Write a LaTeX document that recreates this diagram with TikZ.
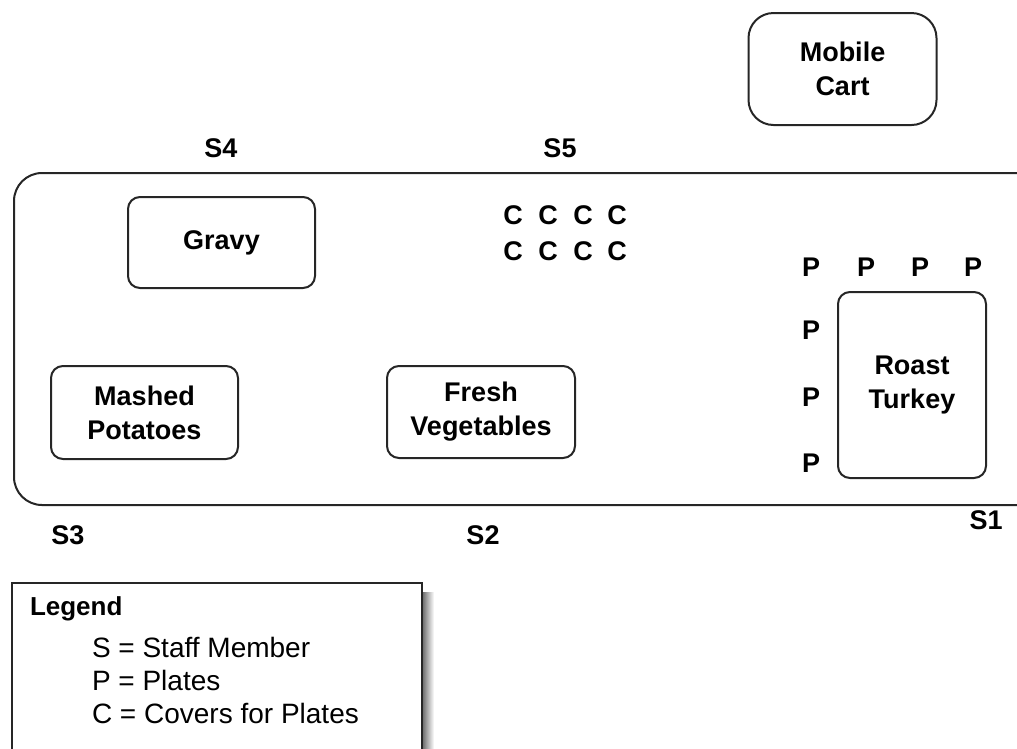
\documentclass[tikz,border=0pt]{standalone}
\usepackage{fontspec}
\setmainfont{Liberation Sans}
\tikzset{
  every node/.style={inner sep=0pt, outer sep=0pt},
  lbl/.style={font=\fontsize{27}{34}\selectfont\bfseries, align=center},
  box/.style={draw=black!85, line width=2pt, rounded corners=12pt, lbl},
  bigbox/.style={draw=black!85, line width=2pt, rounded corners=28pt},
  leg/.style={font=\fontsize{28}{30}\selectfont, anchor=base west},
}
\begin{document}
\begin{tikzpicture}[x=1pt,y=-1pt]
\useasboundingbox (0,0) rectangle (1017,748);
\begin{scope}
\clip (0,0) rectangle (1017,748);
% main table
\draw[bigbox] (14,173) rectangle (1045,505);
% legend shadow and box
\shade[left color=black!55, right color=white] (423,592) rectangle (434,760);
\draw[draw=black!85, fill=white, line width=2pt] (12,583) rectangle (422,770);
\end{scope}

\node[box, minimum width=188pt, minimum height=112pt, rounded corners=25pt] (cart) at (842.5,69) {Mobile\\Cart};
\node[box, minimum width=187pt, minimum height=91pt] (gravy) at (221.5,242.5) {Gravy};
\node[box, minimum width=187pt, minimum height=93pt] (mash) at (144.5,412.5) {Mashed\\Potatoes};
\node[box, minimum width=188pt, minimum height=92pt] (veg) at (481,412) {Fresh\\Vegetables};
\node[box, minimum width=148pt, minimum height=186pt] (turkey) at (912,385) {Roast\\Turkey};

% staff
\node[lbl] (s4) at (221,148) {S4};
\node[lbl] (s5) at (560,148) {S5};
\node[lbl] (s3) at (68,535) {S3};
\node[lbl] (s2) at (483,535) {S2};
\node[lbl] (s1) at (986,520) {S1};

% covers
\foreach \x [count=\i] in {513,548,583,617}{
  \node[lbl] (c1\i) at (\x,215) {C};
  \node[lbl] (c2\i) at (\x,251) {C};
}
% plates
\foreach \x [count=\i] in {811,866,920,973}{
  \node[lbl] (pt\i) at (\x,267) {P};
}
\foreach \y [count=\i] in {330,397,463}{
  \node[lbl] (pl\i) at (811,\y) {P};
}

% legend
\node[font=\fontsize{26}{30}\selectfont\bfseries, anchor=base west] (legt) at (30,615) {Legend};
\node[leg] (l1) at (92,657) {S = Staff Member};
\node[leg] (l2) at (92,690) {P = Plates};
\node[leg] (l3) at (92,723) {C = Covers for Plates};
\end{tikzpicture}
\end{document}
